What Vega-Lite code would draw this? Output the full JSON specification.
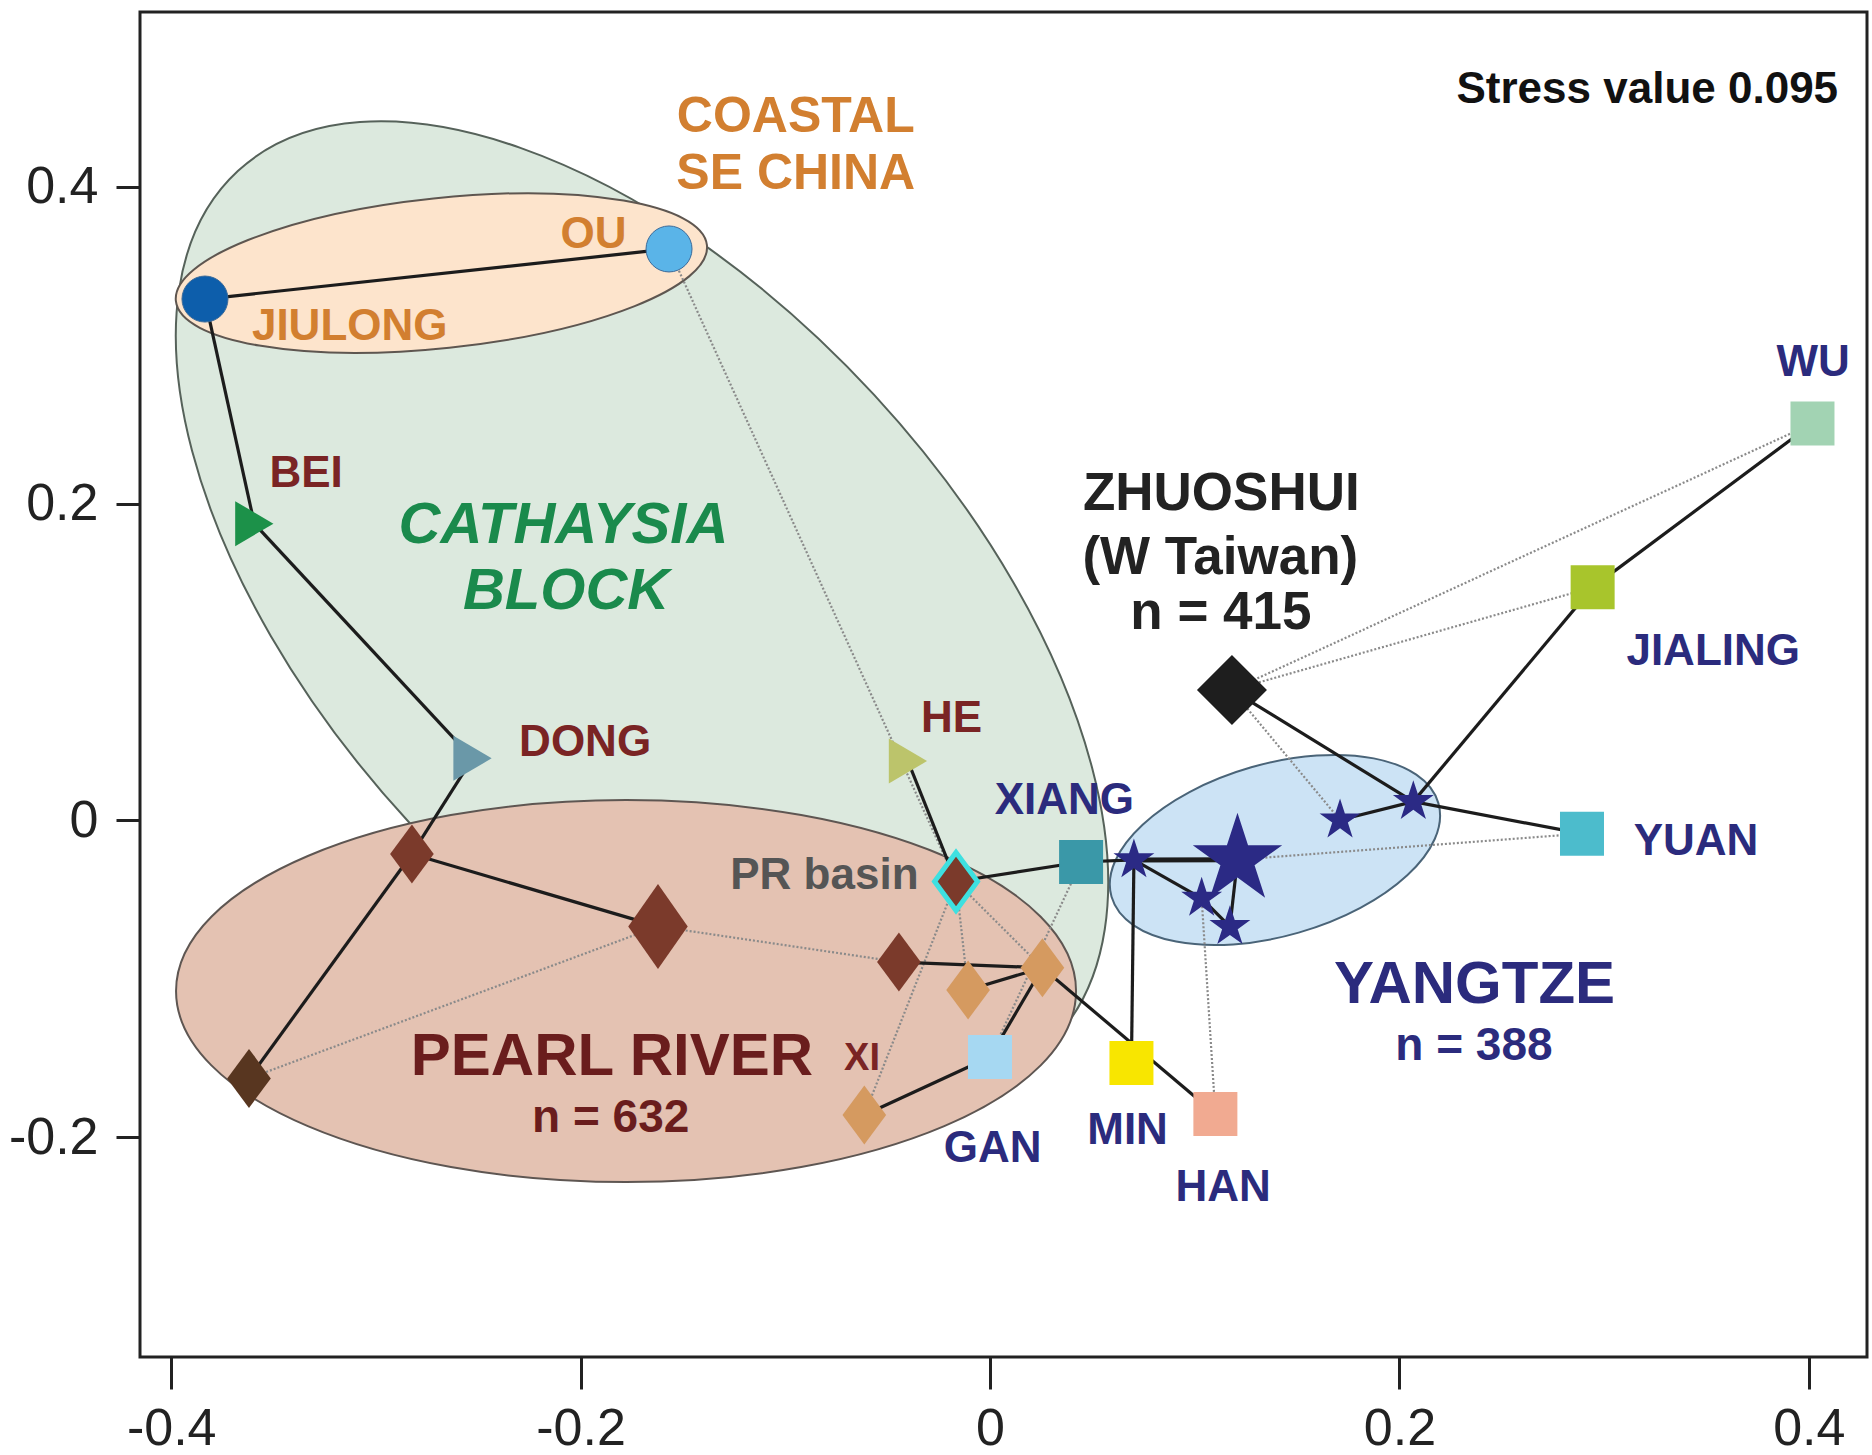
{
  "$schema": "https://vega.github.io/schema/vega-lite/v6.json",
  "width": 1727,
  "height": 1345,
  "autosize": {"type": "none"},
  "padding": {"left": 140, "top": 12, "right": 5, "bottom": 98},
  "background": "white",
  "config": {
    "view": {"stroke": "#222222", "strokeWidth": 3},
    "font": "Liberation Sans",
    "axis": {
      "grid": false, "domain": false, "title": null,
      "labelFont": "Liberation Sans", "labelFontSize": 52, "labelColor": "#222222",
      "tickColor": "#222222", "tickWidth": 3
    }
  },
  "datasets": {
    "regions": [
      {"region": "cathaysia", "x": -0.1700, "y": 0.1334},
      {"region": "coastal", "x": -0.2680, "y": 0.3454},
      {"region": "pearl", "x": -0.1778, "y": -0.1076},
      {"region": "yangtze", "x": 0.1392, "y": -0.0186}
    ],
    "nodes": [
      {"id": "JIULONG", "x": -0.3835, "y": 0.3290, "kind": "circle"},
      {"id": "OU", "x": -0.1568, "y": 0.3606, "kind": "circle"},
      {"id": "BEI", "x": -0.3594, "y": 0.1873, "kind": "triangle"},
      {"id": "DONG", "x": -0.2528, "y": 0.0392, "kind": "triangle"},
      {"id": "HE", "x": -0.0401, "y": 0.0375, "kind": "triangle"},
      {"id": "D1", "x": -0.2824, "y": -0.0211, "kind": "diamond"},
      {"id": "D2", "x": -0.1622, "y": -0.0668, "kind": "diamondL"},
      {"id": "D3", "x": -0.3620, "y": -0.1627, "kind": "diamond"},
      {"id": "D4", "x": -0.0445, "y": -0.0893, "kind": "diamond"},
      {"id": "PR", "x": -0.0166, "y": -0.0385, "kind": "prbasin"},
      {"id": "T1", "x": -0.0107, "y": -0.1069, "kind": "diamond"},
      {"id": "T2", "x": 0.0256, "y": -0.0929, "kind": "diamond"},
      {"id": "XI", "x": -0.0614, "y": -0.1858, "kind": "diamond"},
      {"id": "XIANG", "x": 0.0445, "y": -0.0262, "kind": "square"},
      {"id": "GAN", "x": 0.0, "y": -0.1492, "kind": "square"},
      {"id": "MIN", "x": 0.0691, "y": -0.1530, "kind": "square"},
      {"id": "HAN", "x": 0.1101, "y": -0.1852, "kind": "square"},
      {"id": "YUAN", "x": 0.2892, "y": -0.0083, "kind": "square"},
      {"id": "JIALING", "x": 0.2944, "y": 0.1471, "kind": "square"},
      {"id": "WU", "x": 0.4018, "y": 0.2505, "kind": "square"},
      {"id": "ZHUOSHUI", "x": 0.1182, "y": 0.0823, "kind": "zhuoshui"},
      {"id": "S1", "x": 0.0703, "y": -0.0249, "kind": "star"},
      {"id": "SBIG", "x": 0.1209, "y": -0.0247, "kind": "starL"},
      {"id": "S3", "x": 0.1034, "y": -0.0491, "kind": "star"},
      {"id": "S4", "x": 0.1172, "y": -0.0670, "kind": "star"},
      {"id": "S5", "x": 0.1710, "y": 0.0003, "kind": "star"},
      {"id": "S6", "x": 0.2068, "y": 0.0119, "kind": "star"}
    ],
    "edges": [
      {"from": "OU", "to": "PR", "style": "dotted"},
      {"from": "D2", "to": "D3", "style": "dotted"},
      {"from": "D2", "to": "D4", "style": "dotted"},
      {"from": "PR", "to": "XI", "style": "dotted"},
      {"from": "PR", "to": "T1", "style": "dotted"},
      {"from": "PR", "to": "T2", "style": "dotted"},
      {"from": "XIANG", "to": "GAN", "style": "dotted"},
      {"from": "ZHUOSHUI", "to": "WU", "style": "dotted"},
      {"from": "ZHUOSHUI", "to": "JIALING", "style": "dotted"},
      {"from": "ZHUOSHUI", "to": "S5", "style": "dotted"},
      {"from": "SBIG", "to": "YUAN", "style": "dotted"},
      {"from": "S3", "to": "HAN", "style": "dotted"},
      {"from": "JIULONG", "to": "OU", "style": "solid"},
      {"from": "JIULONG", "to": "BEI", "style": "solid"},
      {"from": "BEI", "to": "DONG", "style": "solid"},
      {"from": "DONG", "to": "D1", "style": "solid"},
      {"from": "D1", "to": "D3", "style": "solid"},
      {"from": "D1", "to": "D2", "style": "solid"},
      {"from": "HE", "to": "PR", "style": "solid"},
      {"from": "PR", "to": "XIANG", "style": "solid"},
      {"from": "XIANG", "to": "S1", "style": "solid"},
      {"from": "S1", "to": "S3", "style": "solid"},
      {"from": "S3", "to": "S4", "style": "solid"},
      {"from": "S4", "to": "SBIG", "style": "solid"},
      {"from": "S1", "to": "MIN", "style": "solid"},
      {"from": "D4", "to": "T2", "style": "solid"},
      {"from": "T1", "to": "T2", "style": "solid"},
      {"from": "GAN", "to": "T2", "style": "solid"},
      {"from": "XI", "to": "GAN", "style": "solid"},
      {"from": "T2", "to": "HAN", "style": "solid"},
      {"from": "ZHUOSHUI", "to": "S6", "style": "solid"},
      {"from": "S5", "to": "S6", "style": "solid"},
      {"from": "S6", "to": "YUAN", "style": "solid"},
      {"from": "S6", "to": "JIALING", "style": "solid"},
      {"from": "JIALING", "to": "WU", "style": "solid"},
      {"from": "S1", "to": "SBIG", "style": "thick"}
    ],
    "labels": [
      {"text": "COASTAL", "x": -0.0949, "y": 0.4341, "grp": "coastal", "lvl": "coastal"},
      {"text": "SE CHINA", "x": -0.0949, "y": 0.3987, "grp": "coastal", "lvl": "coastal"},
      {"text": "OU", "x": -0.1937, "y": 0.3610, "grp": "coastal", "lvl": "river"},
      {"text": "JIULONG", "x": -0.3128, "y": 0.3030, "grp": "coastal", "lvl": "river"},
      {"text": "BEI", "x": -0.3341, "y": 0.2104, "grp": "pearl", "lvl": "river"},
      {"text": "CATHAYSIA", "x": -0.2084, "y": 0.1750, "grp": "cathaysia", "lvl": "cathaysia"},
      {"text": "BLOCK", "x": -0.2071, "y": 0.1335, "grp": "cathaysia", "lvl": "cathaysia"},
      {"text": "DONG", "x": -0.1978, "y": 0.0409, "grp": "pearl", "lvl": "river"},
      {"text": "HE", "x": -0.0188, "y": 0.0559, "grp": "pearl", "lvl": "river"},
      {"text": "XIANG", "x": 0.0363, "y": 0.0040, "grp": "yangtze", "lvl": "river"},
      {"text": "PR basin", "x": -0.0809, "y": -0.0435, "grp": "prbasin", "lvl": "river"},
      {"text": "PEARL RIVER", "x": -0.1847, "y": -0.1603, "grp": "pearlhead", "lvl": "head"},
      {"text": "n = 632", "x": -0.1853, "y": -0.1964, "grp": "pearlhead", "lvl": "count"},
      {"text": "XI", "x": -0.0625, "y": -0.1572, "grp": "pearl", "lvl": "xi"},
      {"text": "GAN", "x": 0.0013, "y": -0.2153, "grp": "yangtze", "lvl": "river"},
      {"text": "MIN", "x": 0.0672, "y": -0.2040, "grp": "yangtze", "lvl": "river"},
      {"text": "HAN", "x": 0.1139, "y": -0.2401, "grp": "yangtze", "lvl": "river"},
      {"text": "YANGTZE", "x": 0.2367, "y": -0.1151, "grp": "yangtze", "lvl": "head"},
      {"text": "n = 388", "x": 0.2364, "y": -0.1512, "grp": "yangtze", "lvl": "count"},
      {"text": "YUAN", "x": 0.3449, "y": -0.0216, "grp": "yangtze", "lvl": "river"},
      {"text": "JIALING", "x": 0.3533, "y": 0.0981, "grp": "yangtze", "lvl": "river"},
      {"text": "WU", "x": 0.4021, "y": 0.2804, "grp": "yangtze", "lvl": "river"},
      {"text": "ZHUOSHUI", "x": 0.1130, "y": 0.1960, "grp": "taiwan", "lvl": "taiwan"},
      {"text": "(W Taiwan)", "x": 0.1125, "y": 0.1553, "grp": "taiwan", "lvl": "taiwan"},
      {"text": "n = 415", "x": 0.1128, "y": 0.1207, "grp": "taiwan", "lvl": "taiwan"},
      {"text": "Stress value 0.095", "x": 0.4143, "y": 0.4527, "grp": "stress", "lvl": "stress"}
    ]
  },
  "encoding": {
    "x": {
      "field": "x", "type": "quantitative",
      "scale": {"domain": [-0.41524, 0.42843], "nice": false, "zero": false},
      "axis": {
        "values": [-0.4, -0.2, 0, 0.2, 0.4], "tickSize": 32, "labelPadding": 14,
        "labelExpr": "datum.value === 0 ? '0' : (datum.value < 0 ? '-' + format(-datum.value, '.1f') : format(datum.value, '.1f'))"
      }
    },
    "y": {
      "field": "y", "type": "quantitative",
      "scale": {"domain": [-0.33849, 0.5101], "nice": false, "zero": false},
      "axis": {
        "values": [-0.2, 0, 0.2, 0.4], "tickSize": 24, "labelPadding": 18,
        "labelExpr": "datum.value === 0 ? '0' : (datum.value < 0 ? '-' + format(-datum.value, '.1f') : format(datum.value, '.1f'))"
      }
    }
  },
  "layer": [
    {
      "data": {"name": "regions"},
      "layer": [
        {
          "transform": [{"filter": "datum.region === 'cathaysia'"}],
          "mark": {"type": "point", "filled": true, "opacity": 1, "fill": "#dce9de", "stroke": "#56625a", "strokeWidth": 2, "angle": 47.3, "size": 1420864,
            "shape": "M-1,0C-1,-0.2927,-0.5523,-0.53,0,-0.53C0.5523,-0.53,1,-0.2927,1,0C1,0.2927,0.5523,0.53,0,0.53C-0.5523,0.53,-1,0.2927,-1,0Z"}
        },
        {
          "transform": [{"filter": "datum.region === 'coastal'"}],
          "mark": {"type": "point", "filled": true, "opacity": 1, "fill": "#fde4cc", "stroke": "#5e5650", "strokeWidth": 2, "angle": -6, "size": 285156,
            "shape": "M-1,0C-1,-0.1552,-0.5523,-0.281,0,-0.281C0.5523,-0.281,1,-0.1552,1,0C1,0.1552,0.5523,0.281,0,0.281C-0.5523,0.281,-1,0.1552,-1,0Z"}
        },
        {
          "transform": [{"filter": "datum.region === 'pearl'"}],
          "mark": {"type": "point", "filled": true, "opacity": 1, "fill": "#e4c2b2", "stroke": "#5e5652", "strokeWidth": 2, "angle": 0, "size": 810000,
            "shape": "M-1,0C-1,-0.2344,-0.5523,-0.4244,0,-0.4244C0.5523,-0.4244,1,-0.2344,1,0C1,0.2344,0.5523,0.4244,0,0.4244C-0.5523,0.4244,-1,0.2344,-1,0Z"}
        },
        {
          "transform": [{"filter": "datum.region === 'yangtze'"}],
          "mark": {"type": "point", "filled": true, "opacity": 1, "fill": "#cce3f5", "stroke": "#4a6478", "strokeWidth": 2, "angle": -16, "size": 115600,
            "shape": "M-1,0C-1,-0.2794,-0.5523,-0.5059,0,-0.5059C0.5523,-0.5059,1,-0.2794,1,0C1,0.2794,0.5523,0.5059,0,0.5059C-0.5523,0.5059,-1,0.2794,-1,0Z"}
        }
      ]
    },
    {
      "data": {"name": "edges"},
      "transform": [
        {"lookup": "from", "from": {"data": {"name": "nodes"}, "key": "id", "fields": ["x", "y"]}, "as": ["x", "y"]},
        {"lookup": "to", "from": {"data": {"name": "nodes"}, "key": "id", "fields": ["x", "y"]}, "as": ["xe", "ye"]}
      ],
      "encoding": {
        "x2": {"field": "xe"},
        "y2": {"field": "ye"}
      },
      "layer": [
        {
          "transform": [{"filter": "datum.style === 'dotted'"}],
          "mark": {"type": "rule", "color": "#8a8a8a", "strokeWidth": 2.2, "strokeDash": [2, 2]}
        },
        {
          "transform": [{"filter": "datum.style === 'solid'"}],
          "mark": {"type": "rule", "color": "#1c1c1c", "strokeWidth": 3.2}
        },
        {
          "transform": [{"filter": "datum.style === 'thick'"}],
          "mark": {"type": "rule", "color": "#1c1c1c", "strokeWidth": 5}
        }
      ]
    },
    {
      "data": {"name": "nodes"},
      "encoding": {
        "color": {
          "field": "id", "type": "nominal", "legend": null,
          "scale": {
            "domain": ["JIULONG", "OU", "BEI", "DONG", "HE", "D1", "D2", "D3", "D4", "PR", "T1", "T2", "XI", "XIANG", "GAN", "MIN", "HAN", "YUAN", "JIALING", "WU", "ZHUOSHUI", "S1", "SBIG", "S3", "S4", "S5", "S6"],
            "range": ["#0d5eab", "#5ab4e8", "#1c9149", "#6a98a8", "#bcc46b", "#7b3a2b", "#7b3a2b", "#583620", "#7b3a2b", "#7b3a2b", "#d59a60", "#d59a60", "#d59a60", "#3a98a8", "#a6d8f2", "#f8e600", "#f1aa91", "#4cbccc", "#a8c52c", "#a2d3b3", "#1e1e1e", "#2b2a85", "#2b2a85", "#2b2a85", "#2b2a85", "#2b2a85", "#2b2a85"]
          }
        }
      },
      "layer": [
        {
          "transform": [{"filter": "datum.kind === 'circle'"}],
          "mark": {"type": "point", "filled": true, "opacity": 1, "shape": "circle", "size": 2116, "stroke": "#3a6a9a", "strokeWidth": 1}
        },
        {
          "transform": [{"filter": "datum.kind === 'triangle'"}],
          "mark": {"type": "point", "filled": true, "opacity": 1, "shape": "M-0.85,-1L0.85,0L-0.85,1Z", "size": 2025, "strokeWidth": 0}
        },
        {
          "transform": [{"filter": "datum.kind === 'diamond'"}],
          "mark": {"type": "point", "filled": true, "opacity": 1, "shape": "M0,-1L0.74,0L0,1L-0.74,0Z", "size": 3481, "strokeWidth": 0}
        },
        {
          "transform": [{"filter": "datum.kind === 'diamondL'"}],
          "mark": {"type": "point", "filled": true, "opacity": 1, "shape": "M0,-1L0.7,0L0,1L-0.7,0Z", "size": 7225, "strokeWidth": 0}
        },
        {
          "transform": [{"filter": "datum.kind === 'prbasin'"}],
          "mark": {"type": "point", "filled": true, "opacity": 1, "shape": "M0,-1L0.74,0L0,1L-0.74,0Z", "size": 3364, "stroke": "#3ee0e0", "strokeWidth": 5}
        },
        {
          "transform": [{"filter": "datum.kind === 'zhuoshui'"}],
          "mark": {"type": "point", "filled": true, "opacity": 1, "shape": "diamond", "size": 4900, "strokeWidth": 0}
        },
        {
          "transform": [{"filter": "datum.kind === 'square'"}],
          "mark": {"type": "point", "filled": true, "opacity": 1, "shape": "square", "size": 1936, "strokeWidth": 0}
        },
        {
          "transform": [{"filter": "datum.kind === 'star'"}],
          "mark": {"type": "point", "filled": true, "opacity": 1, "size": 1849, "strokeWidth": 0,
            "shape": "M0,-1L0.225,-0.309L0.951,-0.309L0.363,0.118L0.588,0.809L0,0.382L-0.588,0.809L-0.363,0.118L-0.951,-0.309L-0.225,-0.309Z"}
        },
        {
          "transform": [{"filter": "datum.kind === 'starL'"}],
          "mark": {"type": "point", "filled": true, "opacity": 1, "size": 8836, "strokeWidth": 0,
            "shape": "M0,-1L0.225,-0.309L0.951,-0.309L0.363,0.118L0.588,0.809L0,0.382L-0.588,0.809L-0.363,0.118L-0.951,-0.309L-0.225,-0.309Z"}
        }
      ]
    },
    {
      "data": {"name": "labels"},
      "encoding": {
        "text": {"field": "text", "type": "nominal"},
        "fill": {
          "field": "grp", "type": "nominal", "legend": null,
          "scale": {
            "domain": ["coastal", "pearl", "cathaysia", "yangtze", "prbasin", "pearlhead", "taiwan", "stress"],
            "range": ["#d27f30", "#7a2424", "#1a8a4c", "#2b2b7d", "#555555", "#6a1d1d", "#222222", "#111111"]
          }
        }
      },
      "layer": [
        {
          "transform": [{"filter": "datum.lvl === 'river'"}],
          "mark": {"type": "text", "font": "Liberation Sans", "fontWeight": "bold", "fontSize": 44, "align": "center", "baseline": "alphabetic"}
        },
        {
          "transform": [{"filter": "datum.lvl === 'xi'"}],
          "mark": {"type": "text", "font": "Liberation Sans", "fontWeight": "bold", "fontSize": 38, "align": "center", "baseline": "alphabetic"}
        },
        {
          "transform": [{"filter": "datum.lvl === 'coastal'"}],
          "mark": {"type": "text", "font": "Liberation Sans", "fontWeight": "bold", "fontSize": 50, "align": "center", "baseline": "alphabetic"}
        },
        {
          "transform": [{"filter": "datum.lvl === 'cathaysia'"}],
          "mark": {"type": "text", "font": "Liberation Sans", "fontWeight": "bold", "fontStyle": "italic", "fontSize": 58, "align": "center", "baseline": "alphabetic"}
        },
        {
          "transform": [{"filter": "datum.lvl === 'head'"}],
          "mark": {"type": "text", "font": "Liberation Sans", "fontWeight": "bold", "fontSize": 60, "align": "center", "baseline": "alphabetic"}
        },
        {
          "transform": [{"filter": "datum.lvl === 'count'"}],
          "mark": {"type": "text", "font": "Liberation Sans", "fontWeight": "bold", "fontSize": 46, "align": "center", "baseline": "alphabetic"}
        },
        {
          "transform": [{"filter": "datum.lvl === 'taiwan'"}],
          "mark": {"type": "text", "font": "Liberation Sans", "fontWeight": "bold", "fontSize": 53, "align": "center", "baseline": "alphabetic"}
        },
        {
          "transform": [{"filter": "datum.lvl === 'stress'"}],
          "mark": {"type": "text", "font": "Liberation Sans", "fontWeight": "bold", "fontSize": 44, "align": "right", "baseline": "alphabetic"}
        }
      ]
    }
  ]
}
